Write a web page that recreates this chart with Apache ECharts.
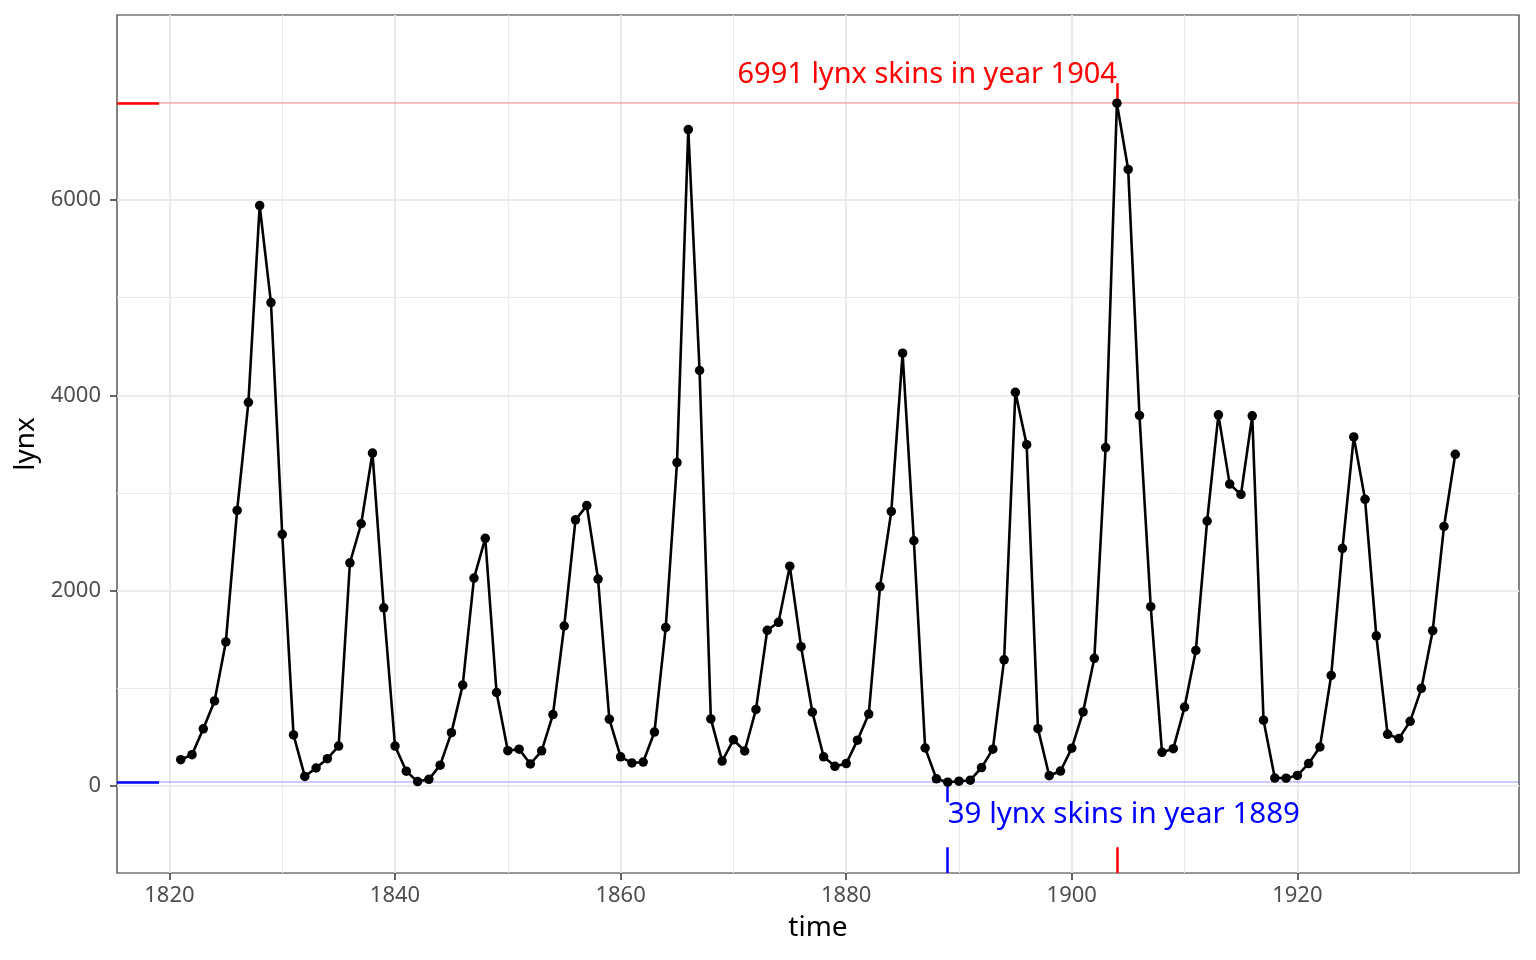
<!DOCTYPE html>
<html><head><meta charset="utf-8">
<script src="https://cdn.jsdelivr.net/npm/echarts@6/dist/echarts.min.js"></script>
<style>html,body{margin:0;padding:0;background:#fff}#c{width:1536px;height:960px}</style>
</head><body><div id="c"></div>
<script>
const startYear = 1821;
const lynx = [269,321,585,871,1475,2821,3928,5943,4950,2577,523,98,184,279,409,2285,2685,3409,1824,409,151,45,68,213,546,1033,2129,2536,957,361,377,225,360,731,1638,2725,2871,2119,684,299,236,245,552,1623,3311,6721,4254,687,255,473,358,784,1594,1676,2251,1426,756,299,201,229,469,736,2042,2811,4431,2511,389,73,39,49,59,188,377,1292,4031,3495,587,105,153,387,758,1307,3465,6991,6313,3794,1836,345,382,808,1388,2713,3800,3091,2985,3790,674,81,80,108,229,399,1132,2432,3574,2935,1537,529,485,662,1000,1590,2657,3396];
const years = lynx.map((v,i)=>startYear+i);
const xTicks = [1820,1840,1860,1880,1900,1920];
const xMinor = [1830,1850,1870,1890,1910,1930];
const yTicks = [0,2000,4000,6000];
const yMinor = [1000,3000,5000,7000];
const maxYear = 1904, maxVal = 6991, minYear = 1889, minVal = 39;
const maxLabel = '6991 lynx skins in year 1904';
const minLabel = '39 lynx skins in year 1889';

const xMin = 1815.35, xMax = 1939.65;
const yMin = -891, yMax = 7894;
const rugX = (xMax-xMin)*0.03, rugY = (yMax-yMin)*0.03;
const segLen = 205;

const font = 'Noto Sans';
const gridLines = [];
xTicks.forEach(v=>gridLines.push({xAxis:v, lineStyle:{color:'#ebebeb',width:2,type:'solid'}}));
xMinor.forEach(v=>gridLines.push({xAxis:v, lineStyle:{color:'#ebebeb',width:1,type:'solid'}}));
yTicks.forEach(v=>gridLines.push({yAxis:v, lineStyle:{color:'#ebebeb',width:2,type:'solid'}}));
yMinor.forEach(v=>gridLines.push({yAxis:v, lineStyle:{color:'#ebebeb',width:1,type:'solid'}}));

function seg(a,b,color,w){return [{coord:a,lineStyle:{color:color,width:w,type:'solid'}},{coord:b}];}

const chart = echarts.init(document.getElementById('c'));
chart.setOption({
  animation:false,
  textStyle:{fontFamily:font},
  grid:{left:117,top:15,width:1402,height:858,show:true,borderColor:'#333',borderWidth:1.2,backgroundColor:'#fff'},
  xAxis:{type:'value',min:xMin,max:xMax,
    name:'time',nameLocation:'middle',nameGap:41,nameTextStyle:{fontSize:28,color:'#000',fontFamily:font},
    axisLine:{show:false,onZero:false},splitLine:{show:false},
    axisTick:{show:true,customValues:xTicks,length:7,lineStyle:{color:'#333',width:1.5}},
    axisLabel:{customValues:xTicks,formatter:v=>String(v),fontSize:22,color:'#4d4d4d',margin:12,fontFamily:font}},
  yAxis:{type:'value',min:yMin,max:yMax,
    name:'lynx',nameLocation:'middle',nameGap:74,nameRotate:90,nameTextStyle:{fontSize:28,color:'#000',fontFamily:font},
    axisLine:{show:false,onZero:false},splitLine:{show:false},
    axisTick:{show:true,customValues:yTicks,length:7,lineStyle:{color:'#333',width:1.5}},
    axisLabel:{customValues:yTicks,formatter:v=>String(v),fontSize:22,color:'#4d4d4d',margin:16,fontFamily:font}},
  series:[
    {type:'line',data:[],z:0,silent:true,
      markLine:{z:0,silent:true,symbol:'none',label:{show:false},animation:false,data:gridLines}},
    {type:'line',data:[],z:1,silent:true,
      markLine:{z:1,silent:true,symbol:'none',label:{show:false},animation:false,data:[
        {yAxis:maxVal,lineStyle:{color:'rgba(255,0,0,0.22)',width:2,type:'solid'}},
        {yAxis:minVal,lineStyle:{color:'rgba(0,0,255,0.2)',width:2,type:'solid'}},
        seg([xMin,maxVal],[xMin+rugX,maxVal],'#ff0000',2.5),
        seg([xMin,minVal],[xMin+rugX,minVal],'#0000ff',2.5),
        seg([maxYear,yMin],[maxYear,yMin+rugY],'#ff0000',2.5),
        seg([minYear,yMin],[minYear,yMin+rugY],'#0000ff',2.5),
        seg([maxYear,maxVal],[maxYear,maxVal+segLen],'#ff0000',2.5),
        seg([minYear,minVal],[minYear,minVal-segLen],'#0000ff',2.5)
      ]}},
    {type:'line',data:years.map((y,i)=>[y,lynx[i]]),z:10,
      symbol:'circle',symbolSize:9.5,showSymbol:true,showAllSymbol:true,
      lineStyle:{color:'#000',width:2.6},itemStyle:{color:'#000'}},
    {type:'scatter',z:11,symbolSize:0,silent:true,itemStyle:{opacity:1},
      data:[
        {value:[maxYear,maxVal+segLen],label:{show:true,formatter:maxLabel,color:'#ff0000',position:'left',distance:0,align:'right',verticalAlign:'middle',offset:[0,-8],fontSize:29,fontFamily:font,textBorderWidth:0,opacity:1}},
        {value:[minYear,minVal-segLen],label:{show:true,formatter:minLabel,color:'#0000ff',position:'right',distance:0,align:'left',verticalAlign:'middle',offset:[0,12],fontSize:29.5,fontFamily:font,textBorderWidth:0,opacity:1}}
      ]}
  ]
});
</script></body></html>
